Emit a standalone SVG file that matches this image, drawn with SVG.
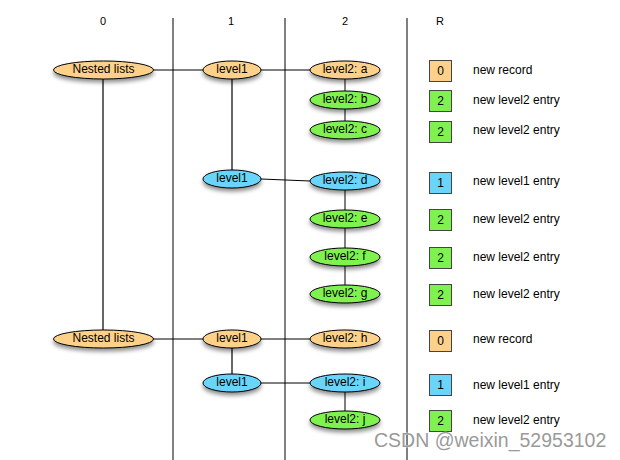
<svg xmlns="http://www.w3.org/2000/svg" width="620" height="460" viewBox="0 0 620 460">
<defs>
<filter id="sh" x="-20%" y="-50%" width="140%" height="220%">
<feDropShadow dx="0" dy="3" stdDeviation="2" flood-color="#000" flood-opacity="0.45"/>
</filter>
<style>
text{font-family:"Liberation Sans",Arial,sans-serif;font-size:12px;fill:#000}
.t{text-anchor:middle;dominant-baseline:central}
.or{fill:#FED18A}
.gr{fill:#80F24F}
.bl{fill:#6AD5FA}
ellipse{stroke:#000;stroke-width:1;filter:url(#sh)}
.box{stroke:#444;stroke-width:1}
.col{stroke:#000;stroke-width:1}
.c{stroke:#000;stroke-width:1;fill:none}
.cg{stroke:#666;stroke-width:2;fill:none}
.lg{text-anchor:start;dominant-baseline:central}
</style>
</defs>
<rect width="620" height="460" fill="#fff"/>
<g id="headers">
<text class="t" x="103" y="21" style="font-size:11px">0</text>
<text class="t" x="231" y="21" style="font-size:11px">1</text>
<text class="t" x="345" y="21" style="font-size:11px">2</text>
<text class="t" x="440" y="21" style="font-size:11px">R</text>
<line class="col" x1="173" y1="18" x2="173" y2="460"/>
<line class="col" x1="285" y1="18" x2="285" y2="460"/>
<line class="col" x1="407" y1="18" x2="407" y2="460"/>
</g>
<g id="connectors">
<line class="c" x1="153" y1="70" x2="203" y2="70"/>
<line class="c" x1="261" y1="70" x2="310" y2="70"/>
<line class="cg" x1="103" y1="79" x2="103" y2="330"/>
<line class="cg" x1="232" y1="79" x2="232" y2="170"/>
<line class="c" x1="345" y1="79" x2="345" y2="91"/>
<line class="c" x1="345" y1="109" x2="345" y2="121"/>
<line class="c" x1="261" y1="179" x2="310" y2="181"/>
<line class="c" x1="345" y1="190" x2="345" y2="210"/>
<line class="c" x1="345" y1="228" x2="345" y2="248"/>
<line class="c" x1="345" y1="266" x2="345" y2="285"/>
<line class="c" x1="153" y1="339" x2="203" y2="339"/>
<line class="c" x1="261" y1="339" x2="310" y2="339"/>
<line class="cg" x1="232" y1="348" x2="232" y2="374"/>
<line class="c" x1="261" y1="383" x2="310" y2="383"/>
<line class="c" x1="345" y1="392" x2="345" y2="411"/>
</g>
<g id="n-nested1"><ellipse class="or" cx="103.5" cy="70" rx="50" ry="9"/><text class="t" x="103.5" y="69">Nested lists</text></g>
<g id="n-l1a"><ellipse class="or" cx="232" cy="70" rx="29" ry="9"/><text class="t" x="232" y="69">level1</text></g>
<g id="n-a"><ellipse class="or" cx="345" cy="70" rx="35" ry="9"/><text class="t" x="345" y="69">level2: a</text></g>
<g id="n-b"><ellipse class="gr" cx="345" cy="100" rx="35" ry="9"/><text class="t" x="345" y="99">level2: b</text></g>
<g id="n-c"><ellipse class="gr" cx="345" cy="130" rx="35" ry="9"/><text class="t" x="345" y="129">level2: c</text></g>
<g id="n-l1b"><ellipse class="bl" cx="232" cy="179" rx="29" ry="9"/><text class="t" x="232" y="178">level1</text></g>
<g id="n-d"><ellipse class="bl" cx="345" cy="181" rx="35" ry="9"/><text class="t" x="345" y="180">level2: d</text></g>
<g id="n-e"><ellipse class="gr" cx="345" cy="219" rx="35" ry="9"/><text class="t" x="345" y="218">level2: e</text></g>
<g id="n-f"><ellipse class="gr" cx="345" cy="257" rx="35" ry="9"/><text class="t" x="345" y="256">level2: f</text></g>
<g id="n-g"><ellipse class="gr" cx="345" cy="294" rx="35" ry="9"/><text class="t" x="345" y="293">level2: g</text></g>
<g id="n-nested2"><ellipse class="or" cx="103.5" cy="339" rx="50" ry="9"/><text class="t" x="103.5" y="338">Nested lists</text></g>
<g id="n-l1c"><ellipse class="or" cx="232" cy="339" rx="29" ry="9"/><text class="t" x="232" y="338">level1</text></g>
<g id="n-h"><ellipse class="or" cx="345" cy="339" rx="35" ry="9"/><text class="t" x="345" y="338">level2: h</text></g>
<g id="n-l1d"><ellipse class="bl" cx="232" cy="383" rx="29" ry="9"/><text class="t" x="232" y="382">level1</text></g>
<g id="n-i"><ellipse class="bl" cx="345" cy="383" rx="35" ry="9"/><text class="t" x="345" y="382">level2: i</text></g>
<g id="n-j"><ellipse class="gr" cx="345" cy="420" rx="35" ry="9"/><text class="t" x="345" y="419">level2: j</text></g>
<g id="legend">
<rect class="box or" x="429.5" y="60.5" width="22" height="21"/><text class="t" x="440.5" y="71">0</text><text class="lg" x="473" y="70">new record</text>
<rect class="box gr" x="429.5" y="90.5" width="22" height="21"/><text class="t" x="440.5" y="101">2</text><text class="lg" x="473" y="100">new level2 entry</text>
<rect class="box gr" x="429.5" y="121.5" width="22" height="21"/><text class="t" x="440.5" y="132">2</text><text class="lg" x="473" y="130">new level2 entry</text>
<rect class="box bl" x="429.5" y="172.5" width="22" height="21"/><text class="t" x="440.5" y="183">1</text><text class="lg" x="473" y="181">new level1 entry</text>
<rect class="box gr" x="429.5" y="209.5" width="22" height="21"/><text class="t" x="440.5" y="220">2</text><text class="lg" x="473" y="219">new level2 entry</text>
<rect class="box gr" x="429.5" y="247.5" width="22" height="21"/><text class="t" x="440.5" y="258">2</text><text class="lg" x="473" y="257">new level2 entry</text>
<rect class="box gr" x="429.5" y="284.5" width="22" height="21"/><text class="t" x="440.5" y="295">2</text><text class="lg" x="473" y="294">new level2 entry</text>
<rect class="box or" x="429.5" y="330.5" width="22" height="21"/><text class="t" x="440.5" y="341">0</text><text class="lg" x="473" y="339">new record</text>
<rect class="box bl" x="429.5" y="374.5" width="22" height="21"/><text class="t" x="440.5" y="385">1</text><text class="lg" x="473" y="385">new level1 entry</text>
<rect class="box gr" x="429.5" y="410.5" width="22" height="21"/><text class="t" x="440.5" y="421">2</text><text class="lg" x="473" y="420">new level2 entry</text>
</g>
<text x="374" y="447" style="font-size:19.5px;fill:#9a9a9a;stroke:#fff;stroke-width:0.6;paint-order:stroke">CSDN @weixin_52953102</text>
</svg>
